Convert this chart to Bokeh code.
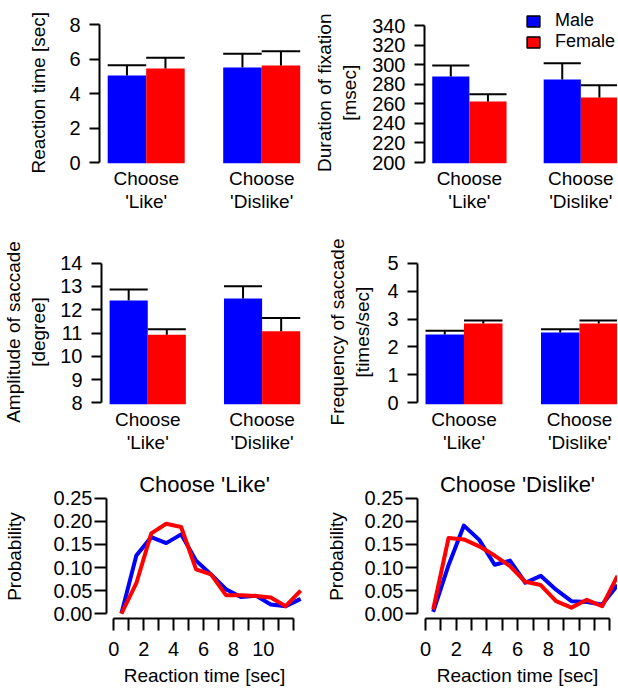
import numpy as np
from bokeh.plotting import figure
from bokeh.layouts import column, row
from bokeh.models import Range1d, FixedTicker, Legend, LegendItem, NumeralTickFormatter
from bokeh.embed import file_html
from bokeh.resources import INLINE

# ---------------- data ----------------
categories = ["Choose\n'Like'", "Choose\n'Dislike'"]
sexes = ["Male", "Female"]

rt_male = [5.04, 5.51]
rt_male_se = [0.60, 0.79]
rt_female = [5.45, 5.62]
rt_female_se = [0.62, 0.83]
rt_ticks = [0, 2, 4, 6, 8]

fix_male = [287.9, 284.8]
fix_male_se = [11.1, 16.7]
fix_female = [262.3, 266.4]
fix_female_se = [7.5, 12.6]
fix_ticks = [200, 220, 240, 260, 280, 300, 320, 340]

amp_male = [12.40, 12.48]
amp_male_se = [0.47, 0.53]
amp_female = [10.92, 11.08]
amp_female_se = [0.24, 0.56]
amp_ticks = [8, 9, 10, 11, 12, 13, 14]

freq_male = [2.45, 2.52]
freq_male_se = [0.13, 0.11]
freq_female = [2.84, 2.84]
freq_female_se = [0.11, 0.11]
freq_ticks = [0, 1, 2, 3, 4, 5]

rt_bins = [0.5, 1.5, 2.5, 3.5, 4.5, 5.5, 6.5, 7.5, 8.5, 9.5, 10.5, 11.5, 12.5]
like_male = [0.000, 0.126, 0.166, 0.153, 0.172, 0.115, 0.085, 0.053, 0.036, 0.039, 0.020, 0.016, 0.032]
like_female = [0.000, 0.066, 0.174, 0.195, 0.188, 0.096, 0.085, 0.040, 0.040, 0.038, 0.035, 0.016, 0.050]
dislike_male = [0.004, 0.105, 0.191, 0.160, 0.106, 0.115, 0.067, 0.082, 0.052, 0.027, 0.025, 0.020, 0.062]
dislike_female = [0.009, 0.164, 0.161, 0.146, 0.126, 0.103, 0.069, 0.062, 0.027, 0.013, 0.030, 0.016, 0.082]
prob_ticks = [0.0, 0.05, 0.10, 0.15, 0.20, 0.25]
rt_axis_ticks = list(range(0, 13))
rt_axis_labels = {t: (str(t) if (t % 2 == 0 and t <= 10) else "") for t in rt_axis_ticks}

# ---------------- style ----------------
MALE = "#0000FF"
FEMALE = "#FF0000"
FONT = "Liberation Sans"
FS = "19px"
TICK_FS = "20px"
BW = 1.0 / 3.0
NB = "\u00a0"


def yrange(v0, px0, v1, px1, top_px, bottom_px):
    ppu = (px0 - px1) / (v1 - v0)
    return Range1d(v0 - (bottom_px - px0) / ppu, v0 + (px0 - top_px) / ppu)


def xrange_(c0_px, ppu, left_px, right_px):
    return Range1d((left_px - c0_px) / ppu, (right_px - c0_px) / ppu)


def make_fig(w, h, col0, row0, left_px, right_px, top_px, bottom_px, xr, yr, title=None):
    kw = dict(width=w, height=h, x_range=xr, y_range=yr,
              output_backend="svg", toolbar_location=None,
              min_border_left=int(round(left_px - col0)),
              min_border_right=int(round(col0 + w - right_px)),
              min_border_top=int(round(top_px - row0)),
              min_border_bottom=int(round(row0 + h - bottom_px)))
    if title is not None:
        kw["title"] = title
    p = figure(**kw)
    p.outline_line_color = None
    p.xgrid.visible = False
    p.ygrid.visible = False
    for ax in p.axis:
        ax.major_label_text_font = FONT
        ax.major_label_text_font_size = TICK_FS
        ax.major_label_text_color = "black"
        ax.axis_label_text_font = FONT
        ax.axis_label_text_font_size = FS
        ax.axis_label_text_font_style = "normal"
        ax.axis_label_text_color = "black"
        ax.minor_tick_line_color = None
        ax.axis_line_color = "black"
        ax.axis_line_width = 2
        ax.major_tick_line_color = "black"
        ax.major_tick_line_width = 2
    if title is not None:
        p.title.text_font = FONT
        p.title.text_font_size = "22px"
        p.title.text_font_style = "normal"
        p.title.text_color = "black"
        p.title.align = "center"
        p.title.standoff = -4
    return p


def bar_panel(col0, row0, w, h, c0, left_px, right_px, top_px, bottom_px,
              v0, px0, v1, px1, ticks, ylabel, male, male_se, female, female_se,
              ylab_standoff):
    xr = xrange_(c0, 115.5, left_px, right_px)
    yr = yrange(v0, px0, v1, px1, top_px, bottom_px)
    p = make_fig(w, h, col0, row0, left_px, right_px, top_px, bottom_px, xr, yr)
    x = np.arange(len(categories))
    for vals, se, off, col in ((male, male_se, -1, MALE), (female, female_se, 1, FEMALE)):
        xs = x + off * BW / 2
        top = np.array(vals, dtype=float)
        up = top + np.array(se, dtype=float)
        p.vbar(x=xs, top=top, bottom=yr.start, width=BW, fill_color=col, line_color=None)
        p.segment(x0=xs, y0=top, x1=xs, y1=up, line_color="black", line_width=2)
        p.segment(x0=xs - BW / 2, y0=up, x1=xs + BW / 2, y1=up, line_color="black", line_width=2)
    xa = p.xaxis[0]
    xa.ticker = FixedTicker(ticks=list(range(len(categories))))
    xa.major_label_overrides = {i: c for i, c in enumerate(categories)}
    xa.axis_line_color = None
    xa.major_tick_line_color = None
    xa.major_tick_out = 0
    xa.major_tick_in = 0
    xa.major_label_standoff = 4
    xa.major_label_text_font_size = FS
    xa.major_label_text_line_height = 1.1
    ya = p.yaxis[0]
    ya.ticker = FixedTicker(ticks=ticks)
    ya.bounds = (ticks[0], ticks[-1])
    ya.major_tick_out = 10
    ya.major_tick_in = 0
    ya.major_label_standoff = 9
    ya.axis_label = ylabel
    ya.axis_label_standoff = ylab_standoff
    ya.axis_label_text_line_height = 1.2
    return p


def line_panel(col0, row0, w, h, c0, ppu, left_px, right_px, title, male, female, ylab_standoff):
    top_px, bottom_px = 494, 621
    xr = xrange_(c0, ppu, left_px, right_px)
    yr = yrange(0.0, 616, 0.25, 498, top_px, bottom_px)
    p = make_fig(w, h, col0, row0, left_px, right_px, top_px, bottom_px, xr, yr, title=title)
    p.line(x=rt_bins, y=male, line_color=MALE, line_width=4, line_join="round")
    p.line(x=rt_bins, y=female, line_color=FEMALE, line_width=4, line_join="round")
    xa = p.xaxis[0]
    xa.ticker = FixedTicker(ticks=rt_axis_ticks)
    xa.major_label_overrides = rt_axis_labels
    xa.bounds = (rt_axis_ticks[0], rt_axis_ticks[-1])
    xa.major_tick_out = 12
    xa.major_tick_in = 0
    xa.major_label_standoff = 11
    xa.axis_label = "Reaction time [sec]"
    xa.axis_label_standoff = 6
    ya = p.yaxis[0]
    ya.ticker = FixedTicker(ticks=prob_ticks)
    ya.formatter = NumeralTickFormatter(format="0.00")
    ya.bounds = (prob_ticks[0], prob_ticks[-1])
    ya.major_tick_out = 12
    ya.major_tick_in = 0
    ya.major_label_standoff = 2
    ya.axis_label = "Probability"
    ya.axis_label_standoff = ylab_standoff
    return p


LW, RW = 310, 307
R1, R2, R3 = 0, 230, 462
H1, H2, H3 = 230, 232, 226
CL, CR = 0, 310
L_LEFT, L_RIGHT = 99, 302      # frame edges, left column
R_LEFT, R_RIGHT = 417, 617     # frame edges, right column

# Row 1 frames reach up to y=11 so the legend fits inside p2's frame; trailing
# no-break spaces keep the axis titles centred where they sit in the reference.
p1 = bar_panel(CL, R1, LW, H1, 145.7, L_LEFT, L_RIGHT, 11, 163, 0, 162, 8, 24, rt_ticks,
               "Reaction time [sec]" + NB * 2,
               rt_male, rt_male_se, rt_female, rt_female_se, 17)
p2 = bar_panel(CR, R1, RW, H1, 463.5, R_LEFT, R_RIGHT, 11, 163, 200, 162, 340, 25, fix_ticks,
               "Duration of fixation" + NB * 2 + "\n[msec]" + NB * 2,
               fix_male, fix_male_se, fix_female, fix_female_se, 9)
p3 = bar_panel(CL, R2, LW, H2, 145.7, L_LEFT, L_RIGHT, 259, 404, 8, 402.3, 14, 262.7, amp_ticks,
               "Amplitude of saccade\n[degree]", amp_male, amp_male_se, amp_female, amp_female_se, 8)
p4 = bar_panel(CR, R2, RW, H2, 463.5, R_LEFT, R_RIGHT, 259, 404, 0, 402.3, 5, 262.7, freq_ticks,
               "Frequency of saccade\n[times/sec]", freq_male, freq_male_se, freq_female, freq_female_se, 11)

# legend (squares with black outline); renderers hold no visible points
nan1 = np.array([np.nan])
lg_m = p2.vbar(x=nan1, top=nan1, width=0.1, fill_color=MALE, line_color="black", line_width=1.5)
lg_f = p2.vbar(x=nan1, top=nan1, width=0.1, fill_color=FEMALE, line_color="black", line_width=1.5)
legend = Legend(items=[LegendItem(label=sexes[0], renderers=[lg_m]),
                       LegendItem(label=sexes[1], renderers=[lg_f])],
                location=(101, 111), padding=0, margin=0, spacing=0,
                glyph_width=16, glyph_height=14, label_standoff=14,
                label_text_font=FONT, label_text_font_size="18px", label_text_color="black",
                border_line_color=None, background_fill_alpha=0)
p2.add_layout(legend)

p5 = line_panel(CL, R3, LW, H3, 106.7, 15.47, L_LEFT, L_RIGHT, "Choose 'Like'", like_male, like_female, 26)
p6 = line_panel(CR, R3, RW, H3, 425, 15.36, R_LEFT, R_RIGHT, "Choose 'Dislike'", dislike_male, dislike_female, 15)

layout = column(row(p1, p2), row(p3, p4), row(p5, p6))
open("out.html", "w").write(file_html(layout, INLINE))
